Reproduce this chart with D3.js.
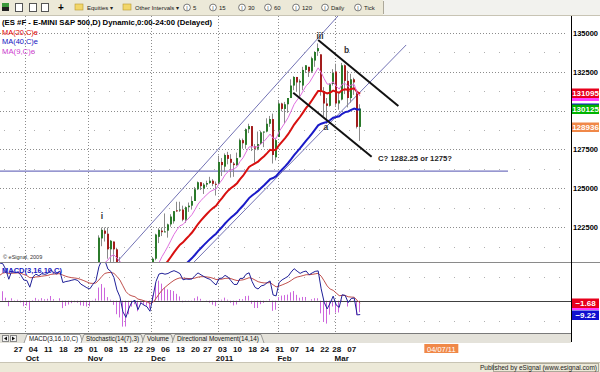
<!DOCTYPE html>
<html>
<head>
<meta charset="utf-8">
<script src="https://cdn.jsdelivr.net/npm/d3@7"></script>
<style>
  body { margin: 0; background: #fff; }
  svg text { font-family: "Liberation Sans", Arial, sans-serif; }
</style>
</head>
<body>
<svg id="chart" width="600" height="372"></svg>
<script>
// closes before the first shown bar, only used to warm up the studies (Aug 2 - Sep 24 2010)
var warmupCloses = [1124, 1118.5, 1125, 1124, 1119.5, 1126, 1119, 1087.5, 1081.5, 1077, 1077.5,
  1090.5, 1092, 1073.5, 1069.5, 1065.5, 1050, 1053.5, 1045, 1062.5, 1047, 1047.5,
  1078.5, 1088, 1102.5, 1090, 1097, 1102, 1107.5, 1120, 1119, 1123, 1122.5, 1123.5,
  1140.5, 1137.5, 1132, 1123, 1146.5];

var barDates = [
  "2010-09-27", "2010-09-28", "2010-09-29", "2010-09-30", "2010-10-01",
  "2010-10-04", "2010-10-05", "2010-10-06", "2010-10-07", "2010-10-08",
  "2010-10-11", "2010-10-12", "2010-10-13", "2010-10-14", "2010-10-15",
  "2010-10-18", "2010-10-19", "2010-10-20", "2010-10-21", "2010-10-22",
  "2010-10-25", "2010-10-26", "2010-10-27", "2010-10-28", "2010-10-29",
  "2010-11-01", "2010-11-02", "2010-11-03", "2010-11-04", "2010-11-05",
  "2010-11-08", "2010-11-09", "2010-11-10", "2010-11-11", "2010-11-12",
  "2010-11-15", "2010-11-16", "2010-11-17", "2010-11-18", "2010-11-19",
  "2010-11-22", "2010-11-23", "2010-11-24", "2010-11-26",
  "2010-11-29", "2010-11-30", "2010-12-01", "2010-12-02", "2010-12-03",
  "2010-12-06", "2010-12-07", "2010-12-08", "2010-12-09", "2010-12-10",
  "2010-12-13", "2010-12-14", "2010-12-15", "2010-12-16", "2010-12-17",
  "2010-12-20", "2010-12-21", "2010-12-22", "2010-12-23",
  "2010-12-27", "2010-12-28", "2010-12-29", "2010-12-30", "2010-12-31",
  "2011-01-03", "2011-01-04", "2011-01-05", "2011-01-06", "2011-01-07",
  "2011-01-10", "2011-01-11", "2011-01-12", "2011-01-13", "2011-01-14",
  "2011-01-18", "2011-01-19", "2011-01-20", "2011-01-21",
  "2011-01-24", "2011-01-25", "2011-01-26", "2011-01-27", "2011-01-28",
  "2011-01-31", "2011-02-01", "2011-02-02", "2011-02-03", "2011-02-04",
  "2011-02-07", "2011-02-08", "2011-02-09", "2011-02-10", "2011-02-11",
  "2011-02-14", "2011-02-15", "2011-02-16", "2011-02-17", "2011-02-18",
  "2011-02-22", "2011-02-23", "2011-02-24", "2011-02-25",
  "2011-02-28", "2011-03-01", "2011-03-02", "2011-03-03", "2011-03-04",
  "2011-03-07", "2011-03-08", "2011-03-09", "2011-03-10", "2011-03-11"
];

var opens = [1146, 1140, 1145, 1143, 1139, 1144, 1136, 1158, 1158, 1156,
  1163, 1163, 1168, 1176, 1172, 1174, 1182, 1164, 1176, 1178,
  1181, 1184, 1183, 1180, 1181, 1181, 1182, 1191, 1195, 1218,
  1223, 1221, 1211, 1216, 1211, 1197, 1195, 1176, 1177, 1194,
  1197, 1195, 1179, 1196, 1187, 1185, 1184, 1205, 1219, 1223,
  1222, 1223, 1227, 1229, 1236, 1236, 1236.5, 1230, 1238, 1239,
  1242, 1249.5, 1254, 1250, 1252.5, 1253.5, 1255, 1253, 1253, 1267,
  1264, 1271.5, 1269, 1266, 1265, 1270, 1281, 1278, 1288, 1290,
  1277, 1275.5, 1278.5, 1286, 1286.5, 1291.5, 1294.5, 1270, 1283, 1304.5,
  1301, 1304, 1308, 1316, 1321.5, 1318, 1316, 1326, 1328, 1325,
  1332, 1338, 1336, 1312.5, 1304.5, 1303, 1317, 1325, 1304.5, 1307,
  1329, 1319, 1308, 1320, 1311, 1289.5];
var highs = [1147, 1147, 1148, 1155, 1149, 1146, 1160, 1161, 1161, 1165,
  1168, 1170, 1182, 1178, 1182, 1183, 1182, 1180, 1187, 1182,
  1194, 1185, 1184, 1187, 1184, 1193, 1194, 1197, 1220, 1225,
  1225, 1225, 1217, 1216, 1212, 1206, 1196, 1183, 1199, 1199,
  1198, 1196, 1198, 1197, 1189, 1187, 1206, 1221, 1224.5, 1225,
  1234, 1227.5, 1233.5, 1235.5, 1241.5, 1241.5, 1239, 1238.5, 1241, 1245,
  1251, 1254.5, 1254, 1253.5, 1255, 1257.5, 1256, 1254.5, 1271, 1269.5,
  1272.5, 1273.5, 1272, 1267, 1273, 1282, 1282, 1288.5, 1291.5, 1290,
  1278.5, 1286.5, 1287, 1286.5, 1295, 1296.5, 1298, 1282.5, 1306, 1305,
  1305.5, 1308, 1320, 1322, 1321.5, 1320, 1328, 1329, 1328, 1334.5,
  1338, 1343, 1336, 1315, 1308, 1317.5, 1326.5, 1330, 1312, 1330.5,
  1329.5, 1325.5, 1323.5, 1321, 1312, 1304];
var lows = [1139, 1130, 1138, 1136, 1135, 1129, 1135, 1152, 1150, 1151,
  1160, 1155, 1166, 1165, 1166, 1170, 1157, 1162, 1169, 1175,
  1180, 1170, 1168, 1172, 1176, 1172, 1181, 1180, 1194, 1213,
  1216, 1205, 1202, 1203, 1193, 1194, 1173, 1171, 1176, 1189,
  1182, 1174, 1178, 1186, 1172, 1172, 1183, 1204, 1215, 1219.5,
  1222, 1218.5, 1225.5, 1227.5, 1235, 1235, 1229, 1228, 1235, 1236.5,
  1242, 1249, 1249, 1246.5, 1251, 1253, 1251.5, 1245.5, 1252.5, 1258,
  1260.5, 1265.5, 1257, 1257.5, 1264.5, 1270, 1275.5, 1275.5, 1285.5, 1274,
  1266.5, 1274.5, 1278, 1276.5, 1286, 1289.5, 1266, 1268, 1283, 1299.5,
  1291.5, 1298.5, 1308, 1313, 1312, 1308.5, 1313, 1324, 1321.5, 1324,
  1328, 1335, 1309.5, 1296.5, 1291.5, 1302.5, 1316, 1303, 1300.5, 1306.5,
  1310.5, 1302, 1305, 1310, 1288.5, 1280.5];
var closes = [1140, 1145.5, 1142.5, 1139, 1144, 1135, 1158.5, 1158, 1156, 1163,
  1163, 1167.5, 1176, 1171.5, 1174, 1182.5, 1164, 1176, 1178, 1181,
  1183.5, 1183.5, 1180, 1181.5, 1181, 1182, 1191.5, 1195.5, 1218.5, 1223.5,
  1221, 1211, 1216.5, 1211, 1197, 1195.5, 1176, 1176.5, 1194.5, 1197.5,
  1195.5, 1178.5, 1196, 1187, 1185.5, 1178.5, 1205, 1220.5, 1223.5, 1222,
  1222.5, 1227, 1232, 1235.5, 1235.5, 1236.5, 1230, 1238, 1239, 1242,
  1249.5, 1254, 1251.5, 1252.5, 1253.5, 1255, 1253, 1252.5, 1267, 1265,
  1271.5, 1269, 1266.5, 1265, 1269.5, 1281, 1279, 1288, 1290, 1277,
  1275.5, 1278.5, 1286, 1286.5, 1291.5, 1294.5, 1271.5, 1281, 1304.5, 1301,
  1304, 1308, 1316, 1321.5, 1318, 1319, 1326, 1329, 1325, 1333.5,
  1337.5, 1340, 1312.5, 1304.5, 1303, 1317, 1324, 1304.5, 1306.5, 1329,
  1319, 1308, 1320, 1318, 1289.5, 1301.25];

var priceTicks = [1225, 1250, 1275, 1300, 1325, 1350];
var minorPriceTicks = [1212.5, 1237.5, 1262.5, 1287.5, 1312.5, 1337.5];
var dayTicks = ["2010-09-27", "2010-10-04", "2010-10-11", "2010-10-18", "2010-10-25",
  "2010-11-01", "2010-11-08", "2010-11-15", "2010-11-22", "2010-11-29",
  "2010-12-06", "2010-12-13", "2010-12-20", "2010-12-27", "2011-01-03",
  "2011-01-10", "2011-01-18", "2011-01-24", "2011-01-31", "2011-02-07",
  "2011-02-14", "2011-02-22", "2011-02-28", "2011-03-07"];
var monthTicks = ["2010-10-01", "2010-11-01", "2010-12-01", "2011-01-03", "2011-02-01", "2011-03-01"];
var monthLabels = ["Oct", "Nov", "Dec", "2011", "Feb", "Mar"];

// last-value flags on the right axis
var priceFlagValues = [1301.6, 1309.3, 1310.95, 1301.25, 1289.36];
var priceFlagColors = ["#1010d0", "#ff40ff", "#e8001c", "#00b400", "#f08848"];
var macdFlagValues = [-2.8, -1.68, -9.22];
var macdFlagColors = ["#ff40ff", "#e8001c", "#1010d0"];

// drawn annotations, in [bar, price]
var channelUpper = [[34.0, 1202.9], [107.6, 1360.6]];
var channelLower = [[59.7, 1202.9], [130.3, 1342.0]];
var fallUpper = [[101.0, 1345.2], [127.7, 1302.9]];
var fallLower = [[92.7, 1311.4], [118.8, 1270.4]];
var supportLine = [[-5, 1261.2], [164.2, 1261.2]];
var waveNames = ["i", "iii", "a", "b"];
var waveSpots = [[29.0, 1230.5], [101.6, 1346.0], [103.6, 1287.5], [110.5, 1337.0]];
var targetNote = "C? 1282.25 or 1275?";
var targetSpot = [120.9, 1267.5];
var cursorBar = 142, cursorDate = "04/07/11";

var svg = d3.select('#chart');
var plotRight = 571, priceTop = 16, priceBottom = 262, macdTop = 263, macdBottom = 333;

var x = d3.scaleLinear().domain([0, 111]).range([14.8, 348.2]);
var y = d3.scaleLinear().domain([1202.88, 1360.58]).range([priceBottom, priceTop]);
var yMacd = d3.scaleLinear().domain([-20.5, 23.5]).range([332.6, 264.1]);
var fmtPrice = function (v) { return d3.format('d')(Math.round(v * 100)); };
var barOf = function (d) { return barDates.indexOf(d); };
var px = function (v) { return Math.round(v) + 0.5; };

// studies: exponential MAs and MACD(3,16,10) on the closes
var allCloses = warmupCloses.concat(closes);
var lead = warmupCloses.length;
function ema(src, n) {
  var a = 2 / (n + 1), e = src[0];
  return src.map(function (v) { e = e + a * (v - e); return e; });
}
var ma9 = ema(allCloses, 9).slice(lead),
    ma20 = ema(allCloses, 20).slice(lead),
    ma40 = ema(allCloses, 40).slice(lead);
var fast = ema(allCloses, 3), slow = ema(allCloses, 16);
var macd = fast.map(function (v, k) { return v - slow[k]; });
var signal = ema(macd, 10);
var macdPts = macd.map(function (v, k) { return {i: k - lead, m: v, s: signal[k], h: v - signal[k]}; })
  .filter(function (d) { return d.i >= -6; });

svg.append('rect').attr('width', 600).attr('height', 372).attr('fill', '#fff');

var defs = svg.append('defs');
defs.append('clipPath').attr('id', 'clipPrice').append('rect')
  .attr('x', 0).attr('y', priceTop).attr('width', plotRight).attr('height', priceBottom - priceTop);
defs.append('clipPath').attr('id', 'clipMacd').append('rect')
  .attr('x', 0).attr('y', macdTop).attr('width', plotRight).attr('height', macdBottom - macdTop);

// ---- grid
var grid = svg.append('g');
grid.selectAll('line.hmaj').data(priceTicks).enter().append('line')
  .attr('x1', 0).attr('x2', 566).attr('y1', function (d) { return px(y(d)); }).attr('y2', function (d) { return px(y(d)); })
  .attr('stroke', '#8c8c8c').attr('stroke-dasharray', '1,2');
grid.selectAll('line.hmin').data(minorPriceTicks).enter().append('line')
  .attr('x1', 4).attr('x2', 566).attr('y1', function (d) { return px(y(d)); }).attr('y2', function (d) { return px(y(d)); })
  .attr('stroke', '#b0b0b0').attr('stroke-dasharray', '1,14');
grid.selectAll('line.vmaj').data(monthTicks).enter().append('line')
  .attr('x1', function (d) { return px(x(barOf(d)) - 1.5); }).attr('x2', function (d) { return px(x(barOf(d)) - 1.5); })
  .attr('y1', priceTop).attr('y2', macdBottom)
  .attr('stroke', '#8c8c8c').attr('stroke-dasharray', '1,2');
grid.selectAll('line.mmin').data([15.5, -13]).enter().append('line')
  .attr('x1', 4).attr('x2', 566).attr('y1', function (d) { return px(yMacd(d)); }).attr('y2', function (d) { return px(yMacd(d)); })
  .attr('stroke', '#b0b0b0').attr('stroke-dasharray', '1,14');

// ---- price panel
var pg = svg.append('g').attr('clip-path', 'url(#clipPrice)');
var bars = barDates.map(function (d, i) { return {i: i, o: opens[i], h: highs[i], l: lows[i], c: closes[i]}; });

var pline = d3.line().x(function (d) { return x(d[0]); }).y(function (d) { return y(d[1]); });
pg.append('path').attr('d', pline(supportLine)).attr('stroke', '#7474c0').attr('stroke-width', 1.3).attr('fill', 'none');
[channelUpper, channelLower].forEach(function (seg) {
  pg.append('path').attr('d', pline(seg)).attr('stroke', '#7272b4').attr('stroke-width', 1).attr('fill', 'none');
});

pg.selectAll('line.wick').data(bars).enter().append('line')
  .attr('x1', function (d) { return Math.round(x(d.i)) - 0.5; })
  .attr('x2', function (d) { return Math.round(x(d.i)) - 0.5; })
  .attr('y1', function (d) { return y(d.h); }).attr('y2', function (d) { return y(d.l); })
  .attr('stroke', '#8a8a8a');
pg.selectAll('rect.body').data(bars).enter().append('rect')
  .attr('x', function (d) { return Math.round(x(d.i)) - 1; })
  .attr('width', 2)
  .attr('y', function (d) { return y(Math.max(d.o, d.c)); })
  .attr('height', function (d) { return Math.max(1, Math.abs(y(d.o) - y(d.c))); })
  .attr('fill', function (d) { return d.c >= d.o ? '#2b7a2b' : '#a31d1d'; });

var maLine = function (arr) {
  return d3.line().x(function (d, i) { return x(i); }).y(function (d) { return y(d); })(arr);
};
pg.append('path').attr('d', maLine(ma40)).attr('stroke', '#1a1ac8').attr('stroke-width', 2).attr('fill', 'none');
pg.append('path').attr('d', maLine(ma20)).attr('stroke', '#d81010').attr('stroke-width', 2).attr('fill', 'none');
pg.append('path').attr('d', maLine(ma9)).attr('stroke', '#e070e0').attr('stroke-width', 1).attr('fill', 'none');

[fallUpper, fallLower].forEach(function (seg) {
  pg.append('path').attr('d', pline(seg)).attr('stroke', '#111').attr('stroke-width', 2).attr('fill', 'none');
});
pg.selectAll('text.wave').data(waveNames).enter().append('text')
  .attr('x', function (d, i) { return x(waveSpots[i][0]); })
  .attr('y', function (d, i) { return y(waveSpots[i][1]); })
  .attr('text-anchor', 'middle').attr('font-size', 8.5).attr('font-weight', 'bold').attr('fill', '#333')
  .text(function (d) { return d; });
pg.append('text').attr('x', x(targetSpot[0])).attr('y', y(targetSpot[1]))
  .attr('font-size', 8).attr('font-weight', 'bold').attr('fill', '#222')
  .attr('textLength', 74).attr('lengthAdjust', 'spacingAndGlyphs').text(targetNote);

pg.append('text').attr('x', 3).attr('y', 259).attr('font-size', 5.5).attr('fill', '#333').text('\u00a9 eSignal, 2009');

// header texts
svg.append('text').attr('x', 2).attr('y', 24.5).attr('font-size', 7.5).attr('font-weight', 'bold')
  .attr('textLength', 210).attr('lengthAdjust', 'spacingAndGlyphs')
  .text('(ES #F - E-MINI S&P 500,D) Dynamic,0:00-24:00 (Delayed)');
var maNames = ['MA(20,C)e', 'MA(40,C)e', 'MA(9,C)e'];
var maColors = ['#e00000', '#1010c0', '#d040d0'];
svg.selectAll('text.maname').data(maNames).enter().append('text')
  .attr('x', 2).attr('y', function (d, i) { return 34.5 + i * 9.5; })
  .attr('font-size', 7.5).attr('fill', function (d, i) { return maColors[i]; })
  .attr('textLength', function (d, i) { return i === 2 ? 33 : 36; }).attr('lengthAdjust', 'spacingAndGlyphs')
  .text(function (d) { return d; });

// ---- macd panel
var mg = svg.append('g').attr('clip-path', 'url(#clipMacd)');
mg.selectAll('line.hist').data(macdPts).enter().append('line')
  .attr('x1', function (d) { return Math.round(x(d.i)) - 0.5; })
  .attr('x2', function (d) { return Math.round(x(d.i)) - 0.5; })
  .attr('y1', yMacd(0)).attr('y2', function (d) { return yMacd(d.h); })
  .attr('stroke', '#cc66dd');
mg.append('line').attr('x1', 0).attr('x2', plotRight).attr('y1', px(yMacd(0))).attr('y2', px(yMacd(0)))
  .attr('stroke', '#404040');
mg.append('path').datum(macdPts)
  .attr('d', d3.line().x(function (d) { return x(d.i); }).y(function (d) { return yMacd(d.s); }))
  .attr('stroke', '#c0504d').attr('fill', 'none');
mg.append('path').datum(macdPts)
  .attr('d', d3.line().x(function (d) { return x(d.i); }).y(function (d) { return yMacd(d.m); }))
  .attr('stroke', '#202098').attr('fill', 'none');
svg.append('text').attr('x', 2).attr('y', 273).attr('font-size', 8).attr('font-weight', 'bold')
  .attr('fill', '#2020c0').attr('textLength', 60).attr('lengthAdjust', 'spacingAndGlyphs').text('MACD(3,16,10,C)');

// panel frames
svg.append('line').attr('x1', 0).attr('x2', 600).attr('y1', 262.5).attr('y2', 262.5).attr('stroke', '#8a8a8a');
svg.append('line').attr('x1', 0).attr('x2', 571).attr('y1', 333.5).attr('y2', 333.5).attr('stroke', '#7a7a7a');
svg.append('line').attr('x1', 571.5).attr('x2', 571.5).attr('y1', priceTop).attr('y2', 342).attr('stroke', '#000');

// ---- right axis
svg.selectAll('text.ptick').data(priceTicks).enter().append('text')
  .attr('x', 573).attr('y', function (d) { return y(d) + 3; })
  .attr('font-size', 8).attr('font-weight', 'bold').attr('textLength', 25).attr('lengthAdjust', 'spacingAndGlyphs')
  .text(fmtPrice);

function flags(values, colors, scale, withText, fmt) {
  values.forEach(function (v, i) {
    var cy = Math.round(scale(v));
    svg.append('rect').attr('x', 572).attr('y', cy - 4.5).attr('width', 27).attr('height', 9.5).attr('fill', colors[i]);
    if (withText(i)) {
      svg.append('text').attr('x', 585.5).attr('y', cy + 3).attr('text-anchor', 'middle')
        .attr('font-size', 8).attr('font-weight', 'bold').attr('fill', '#fff').text(fmt(v));
    }
  });
}
flags(priceFlagValues, priceFlagColors, y, function (i) { return i >= 2; }, fmtPrice);
flags(macdFlagValues, macdFlagColors, yMacd, function (i) { return i >= 1; }, function (v) { return d3.format('.2f')(v); });

// ---- toolbar
svg.append('rect').attr('x', 0).attr('y', 0).attr('width', 600).attr('height', 15).attr('fill', '#f2f2ee');
svg.append('rect').attr('x', 0).attr('y', 0).attr('width', 383).attr('height', 15).attr('fill', '#ece9d8');
svg.append('line').attr('x1', 383.5).attr('x2', 383.5).attr('y1', 1).attr('y2', 14).attr('stroke', '#aca899');
svg.append('line').attr('x1', 0).attr('x2', 600).attr('y1', 15.5).attr('y2', 15.5).attr('stroke', '#c8c4b4');
svg.append('rect').attr('x', 2).attr('y', 3).attr('width', 7).attr('height', 4).attr('fill', '#3c9a3c');
svg.append('rect').attr('x', 2).attr('y', 7).attr('width', 7).attr('height', 4).attr('fill', '#222');
[15, 29, 41].forEach(function (ix) {
  svg.append('rect').attr('x', ix + 0.5).attr('y', 3.5).attr('width', 7).attr('height', 8).attr('fill', '#fff').attr('stroke', '#555');
});
svg.append('text').attr('x', 58).attr('y', 11).attr('font-size', 10).attr('font-weight', 'bold').text('+');
[75, 123].forEach(function (ix) {
  svg.append('rect').attr('x', ix).attr('y', 4).attr('width', 8).attr('height', 6).attr('fill', '#f2d66a').attr('stroke', '#b89a30').attr('stroke-width', 0.6);
});
svg.append('text').attr('x', 87).attr('y', 10).attr('font-size', 6).attr('fill', '#222').text('Equities \u25be');
svg.append('text').attr('x', 135).attr('y', 10).attr('font-size', 6).attr('fill', '#222').text('Other Intervals \u25be');
var intervalNames = ['5', '15', '30', '60', '120', 'Daily', 'Tick'];
var intervalAt = [187, 213, 242, 268, 296, 325, 358];
intervalNames.forEach(function (t, i) {
  svg.append('circle').attr('cx', intervalAt[i]).attr('cy', 7.5).attr('r', 3.4).attr('fill', '#fff').attr('stroke', '#444').attr('stroke-width', 0.7);
  svg.append('text').attr('x', intervalAt[i]).attr('y', 9.6).attr('text-anchor', 'middle').attr('font-size', 5).attr('fill', '#333').text('I');
  svg.append('text').attr('x', intervalAt[i] + 6).attr('y', 10).attr('font-size', 6).attr('fill', '#222').text(t);
});

// ---- study tabs
svg.append('rect').attr('x', 0).attr('y', 334).attr('width', 571).attr('height', 9).attr('fill', '#e4e2da');
svg.append('rect').attr('x', 2.5).attr('y', 335.5).attr('width', 6).attr('height', 6).attr('fill', '#f4f4f4').attr('stroke', '#888');
svg.append('rect').attr('x', 10.5).attr('y', 335.5).attr('width', 6).attr('height', 6).attr('fill', '#f4f4f4').attr('stroke', '#888');
svg.append('path').attr('d', 'M7,336.5 L4,338.5 L7,340.5Z M12,336.5 L15,338.5 L12,340.5Z').attr('fill', '#111');
var tabNames = ['MACD(3,16,10,C)', 'Stochastic(14(7),3)', 'Volume', 'Directional Movement(14,14)'];
var tabX = [[24, 81], [81, 142], [142, 172], [172, 262]];
tabNames.forEach(function (t, i) {
  var a = tabX[i][0], b = tabX[i][1];
  svg.append('path').attr('d', 'M' + a + ',343 L' + (a + 3) + ',334.5 L' + (b - 1) + ',334.5 L' + (b + 2) + ',343')
    .attr('fill', i === 0 ? '#fff' : '#ecebe4').attr('stroke', '#777').attr('stroke-width', 0.7);
  svg.append('text').attr('x', (a + b) / 2 + 1).attr('y', 341).attr('text-anchor', 'middle')
    .attr('font-size', 6.5).attr('fill', '#111').attr('textLength', b - a - 8).attr('lengthAdjust', 'spacingAndGlyphs').text(t);
});

// ---- date axis
svg.selectAll('text.day').data(dayTicks).enter().append('text')
  .attr('x', function (d) { return x(barOf(d)) + 3.5; }).attr('y', 352)
  .attr('text-anchor', 'middle').attr('font-size', 8).attr('font-weight', 'bold').attr('fill', '#111')
  .text(function (d) { return d.slice(8); });
svg.selectAll('text.month').data(monthTicks).enter().append('text')
  .attr('x', function (d) { return x(barOf(d)) + 5.5; }).attr('y', 361)
  .attr('text-anchor', 'middle').attr('font-size', 8).attr('font-weight', 'bold').attr('fill', '#111')
  .text(function (d, i) { return monthLabels[i]; });
svg.append('rect').attr('x', x(cursorBar) - 17).attr('y', 344).attr('width', 34).attr('height', 9).attr('fill', '#f08848');
svg.append('text').attr('x', x(cursorBar)).attr('y', 351.5).attr('text-anchor', 'middle')
  .attr('font-size', 7.5).attr('fill', '#fff').text(cursorDate);

// ---- status bar
svg.append('rect').attr('x', 0).attr('y', 363).attr('width', 600).attr('height', 9).attr('fill', '#ece9d8');
svg.append('line').attr('x1', 0).attr('x2', 600).attr('y1', 362.5).attr('y2', 362.5).attr('stroke', '#c8c4b4');
svg.append('rect').attr('x', 493.5).attr('y', 363.5).attr('width', 105).attr('height', 8).attr('fill', 'none').attr('stroke', '#aca899');
svg.append('text').attr('x', 597).attr('y', 370.3).attr('text-anchor', 'end').attr('font-size', 6.5).attr('fill', '#222')
  .text('Published by eSignal (www.esignal.com)');
</script>
</body>
</html>
